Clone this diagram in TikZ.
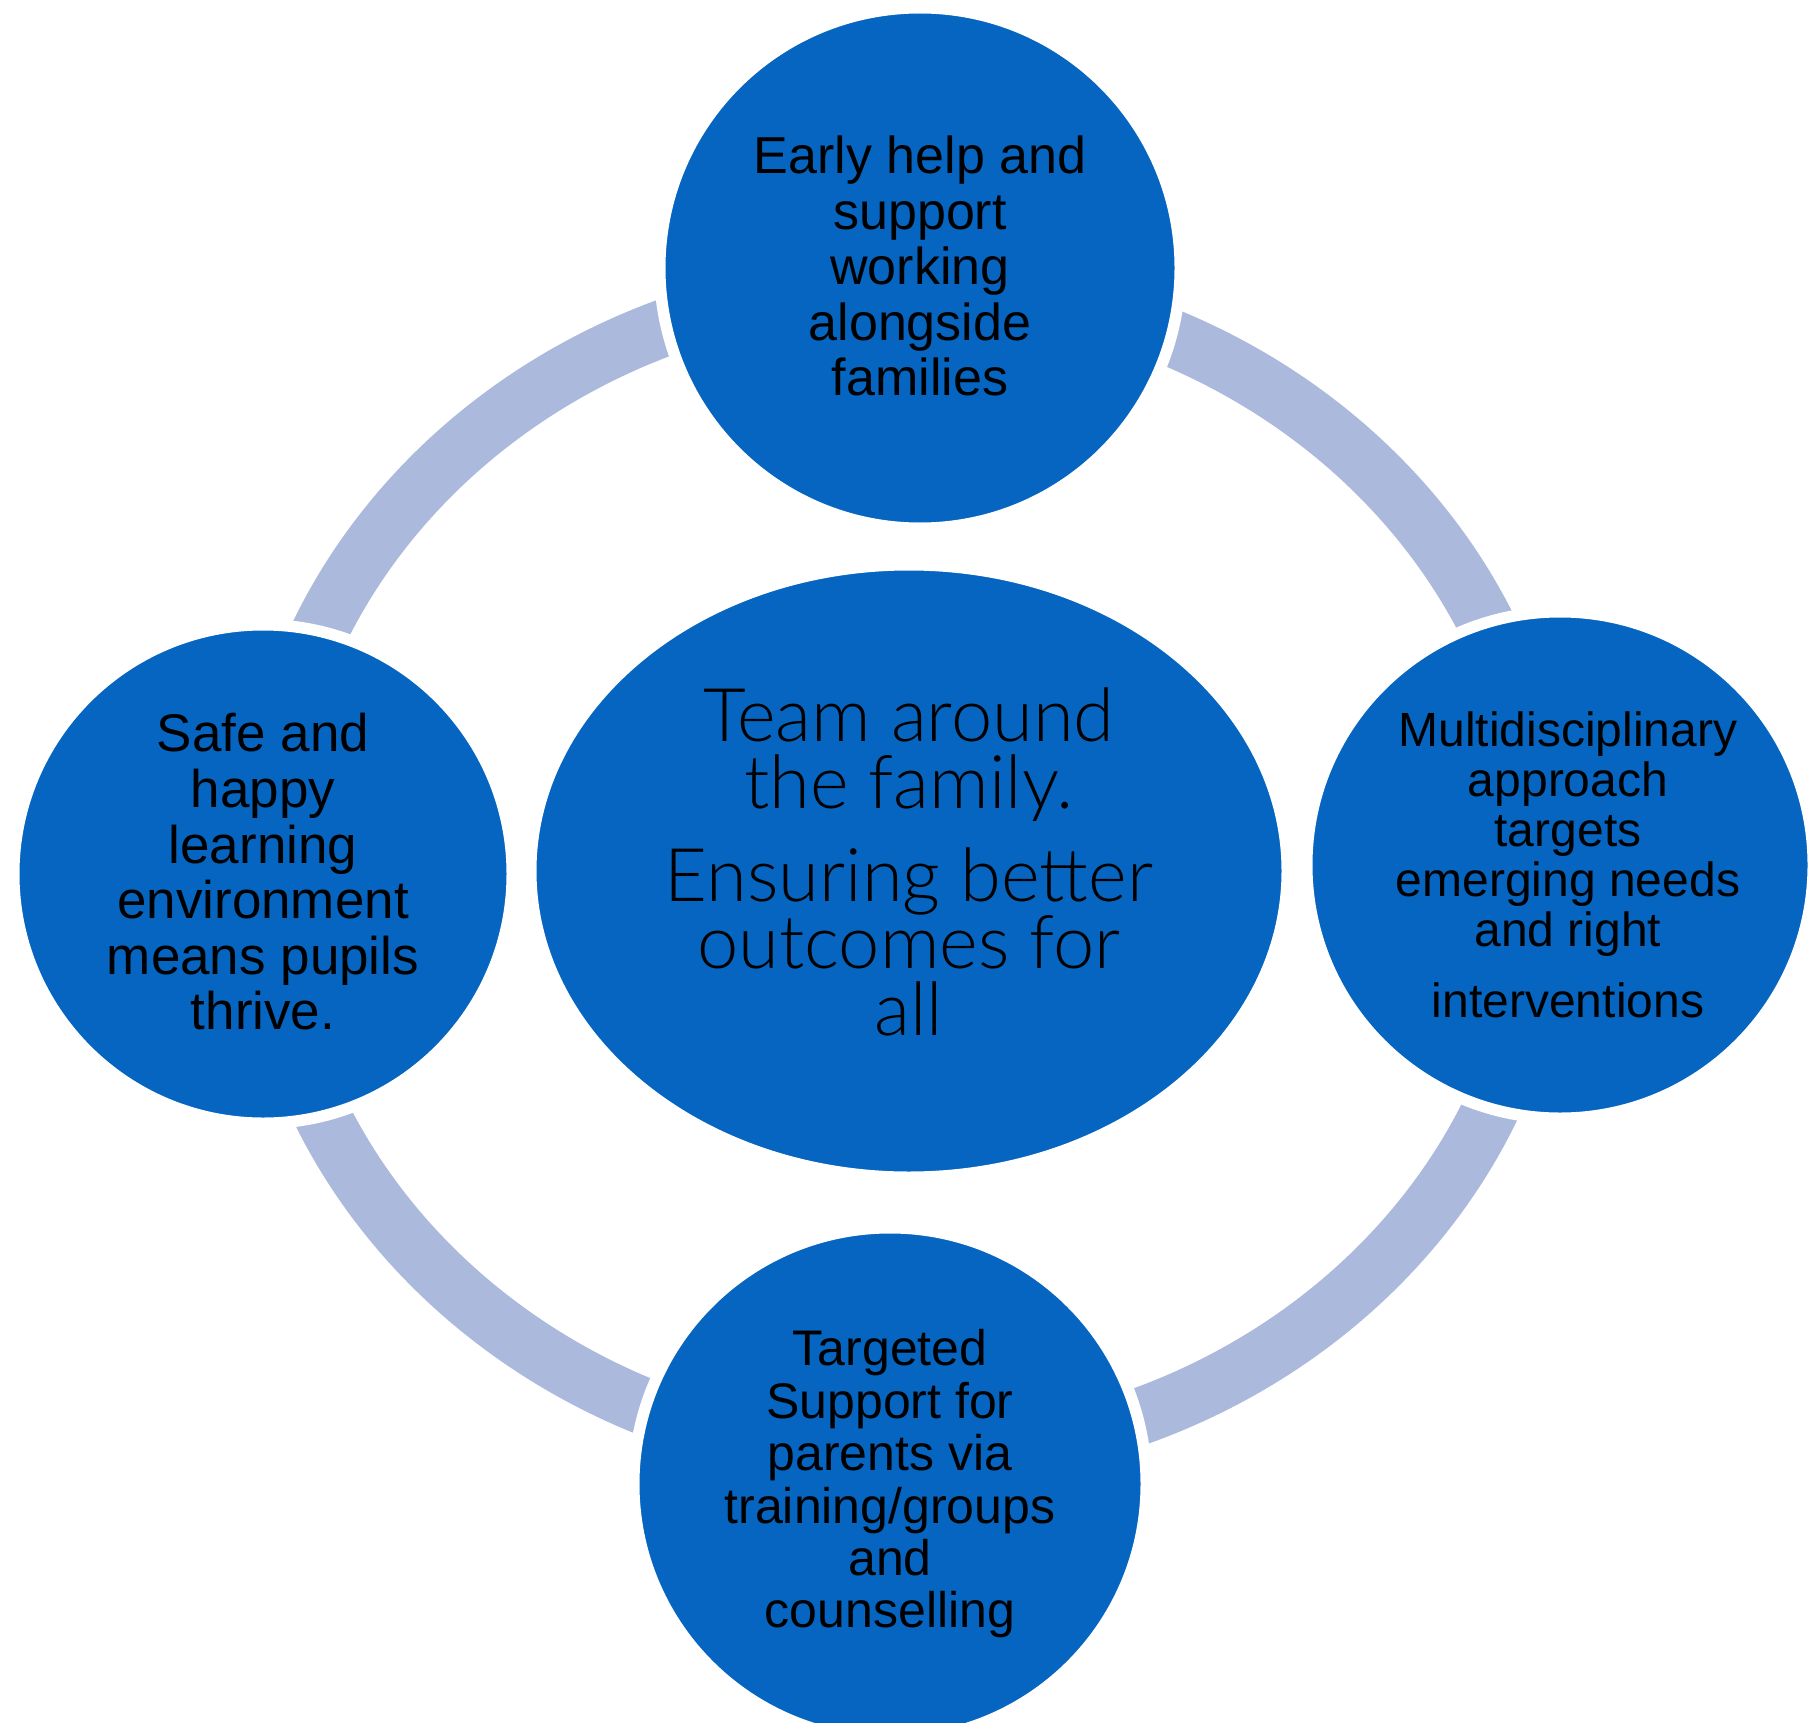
\documentclass[tikz,border=0pt]{standalone}
\usepackage{fontspec}
\setmainfont{Liberation Sans}
\newfontfamily\lightfont{Lato Light}
\usetikzlibrary{shapes.geometric}
\definecolor{discblue}{RGB}{5,101,192}
\definecolor{ringblue}{RGB}{171,185,220}
\begin{document}
\begin{tikzpicture}[x=1pt,y=-1pt,
  disc/.style={circle, fill=discblue, draw=white, line width=3pt,
    minimum size=#1, inner sep=0pt},
  disctext/.style={align=center, text=black, inner sep=0pt},
  halo/.style={fill=white}]
\clip (0,0) rectangle (1810,1723);
\fill[white] (0,0) rectangle (1810,1723);

% the cycle ring behind the discs
\draw[ringblue, line width=57pt] (905,871) ellipse [x radius=641, y radius=586];

% white gaps where the ring meets each disc
\fill[halo] (920,268) circle [radius=266];
\fill[halo] (263,874) circle [radius=255];
\fill[halo] (1560,865) circle [radius=259];
\fill[halo] (890,1484) circle [radius=262];

% central hub
\node[ellipse, fill=discblue, draw=white, line width=3pt, minimum width=748,
  minimum height=604, inner sep=0pt] (hub) at (909,871) {};
\node[disctext, font=\lightfont\fontsize{74}{67}\selectfont] (hubtext) at (909,862)
  {Team around\\the family.\\[26pt]Ensuring better\\outcomes for\\all};

% satellite discs
\node[disc=512] (top) at (920,268) {};
\node[disc=490] (left) at (263,874) {};
\node[disc=498] (right) at (1560,865) {};
\node[disc=504] (bottom) at (890,1484) {};

% their captions
\node[disctext, font=\fontsize{52}{55.5}\selectfont] (toptext) at (920,266)
  {Early help and\\support\\working\\alongside\\families};
\node[disctext, font=\fontsize{53}{55.6}\selectfont] (lefttext) at (263,872)
  {Safe and\\happy\\learning\\environment\\means pupils\\thrive.};
\node[disctext, font=\fontsize{48}{50}\selectfont] (righttext) at (1568,865)
  {Multidisciplinary\\approach\\targets\\emerging needs\\and right\\[21pt]interventions};
\node[disctext, font=\fontsize{50}{52.4}\selectfont] (bottomtext) at (890,1484)
  {Targeted\\Support for\\parents via\\training/groups\\and\\counselling};
\end{tikzpicture}
\end{document}
